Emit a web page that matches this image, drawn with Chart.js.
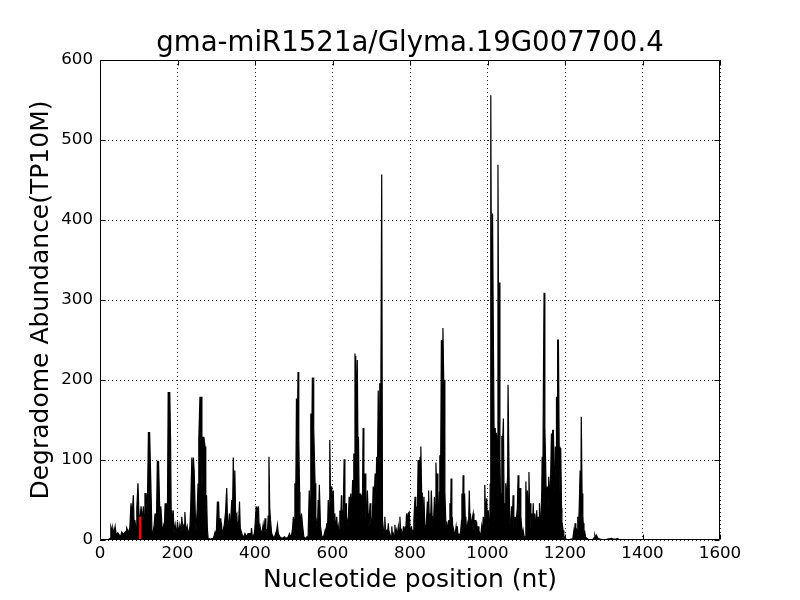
<!DOCTYPE html>
<html>
<head>
<meta charset="utf-8">
<script src="https://cdn.jsdelivr.net/npm/chart.js@4.4.1/dist/chart.umd.min.js"></script>
<style>
  html, body { margin: 0; padding: 0; background: #fff; }
  #wrap { width: 800px; height: 600px; }
</style>
</head>
<body>
<div id="wrap"><canvas id="c" width="800" height="600"></canvas></div>
<script>
const chartTitle = "gma-miR1521a/Glyma.19G007700.4";
const xLabel = "Nucleotide position (nt)";
const yLabel = "Degradome Abundance(TP10M)";
const xTicks = [0, 200, 400, 600, 800, 1000, 1200, 1400, 1600];
const yTicks = [0, 100, 200, 300, 400, 500, 600];

// degradome signal: nucleotide positions and abundance (TP10M)
const positions = [
1,20,26,28,31,33,36,39,42,46,50,53,56,60,65,67,69,73,77,80,83,86,88,90,93,95,98,100,102,104,106,109,112,114,116,119,122,125,127,128,131,134,136,138,140,142,144,146,148,150,151,154,156,157,160,162,164,166,168,170,172,174,176,178,180,182,184,185,187,189,191,194,197,200,203,206,209,211,214,217,219,222,225,228,232,234,237,239,241,243,246,248,251,253,255,
258,260,261,263,265,267,268,271,273,275,277,279,285,292,295,297,300,303,305,306,308,310,312,314,316,318,321,324,327,329,331,334,336,338,340,342,344,346,348,350,353,355,358,360,362,366,370,374,378,382,387,389,391,393,396,399,401,403,405,407,409,411,413,416,419,421,423,426,428,430,432,434,436,438,440,443,447,450,453,456,458,460,464,470,476,480,486,489,492,495,497,499,501,503,505,507,509,511,513,515,
516,518,520,523,526,530,534,537,540,542,544,546,548,550,551,552,555,557,559,561,563,564,566,569,572,575,578,581,583,585,587,589,591,593,595,598,600,602,604,606,608,611,613,615,617,619,621,623,624,626,628,630,632,635,636,638,641,643,645,647,649,652,654,655,657,658,659,660,662,664,666,667,669,671,673,675,677,679,681,684,686,688,690,692,694,697,699,701,703,705,707,710,712,714,716,718,720,722,724,725,727,729,731,733,735,737,740,742,744,746,748,751,753,755,757,759,761,763,765,767,770,772,
774,776,778,781,783,785,787,789,791,793,795,798,800,802,804,806,808,810,813,815,817,819,821,823,826,828,830,832,834,836,838,839,842,845,847,848,850,851,853,855,857,858,861,863,865,867,869,870,872,874,876,877,879,881,882,884,885,887,888,890,892,893,895,897,900,902,903,905,906,908,909,911,913,916,919,921,922,924,926,928,931,933,934,936,937,939,941,943,944,946,949,951,953,955,956,958,960,963,965,968,970,972,974,976,978,980,982,985,987,989,991,993,995,998,1000,1002,1004,1006,
1007,1008,1009,1011,1013,1015,1017,1019,1020,1022,1023,1025,1027,1029,1030,1032,1034,1035,1037,1039,1041,1043,1044,1046,1047,1049,1050,1052,1053,1055,1057,1059,1062,1064,1066,1068,1071,1073,1075,1077,1079,1081,1084,1086,1088,1090,1092,1095,1097,1099,1101,1103,1105,1107,1109,1111,1112,1114,1116,1118,1120,1122,1124,1127,1129,1131,1133,1134,1136,1138,1140,1141,1143,1144,1146,1148,1150,1152,1154,1156,1158,1160,1163,1165,1167,1168,1170,1172,1174,1175,1177,1178,1180,1181,1183,1185,1187,1189,1191,1192,1195,1197,1200,1204,1210,1215,1220,1223,1225,1226,1228,1230,1232,1233,1235,1237,1239,1241,1242,1244,1246,1247,1249,1251,1253,1256,1260,1265,1273,1275,1277,1279,1281,1284,1286,1290,1300,1310,1320,1325,1330,1336,1340,1345
];
const abundance = [
0,0,2,17,12,15,8,17,6,9,6,4,10,7,10,5,15,9,15,46,30,56,20,25,12,40,71,40,20,29,42,25,42,20,58,58,30,135,60,135,75,12,5,12,20,33,15,33,99,40,99,42,10,42,17,8,17,10,46,20,46,30,185,90,185,129,20,37,15,37,8,19,6,23,8,19,10,29,12,20,35,10,17,6,17,40,103,60,103,87,30,12,40,70,126,
179,100,179,60,129,80,129,117,40,56,15,2,1,2,6,10,5,48,20,48,15,27,10,17,6,12,20,35,65,25,15,33,12,30,50,30,103,40,87,30,33,12,25,48,15,8,3,8,4,8,8,3,15,5,4,10,25,42,20,35,42,10,17,8,12,19,8,27,10,12,6,30,104,40,25,8,4,3,8,12,19,8,4,2,4,2,4,8,3,8,15,29,20,71,40,177,120,210,125,60,
33,15,33,17,4,2,4,4,62,30,158,90,203,160,203,140,71,30,21,10,50,20,69,17,6,2,6,12,5,21,10,50,30,125,50,67,30,62,20,33,12,29,8,17,8,37,20,56,15,29,40,101,30,46,15,21,30,54,25,58,30,75,40,108,60,233,150,230,120,225,90,129,40,58,25,56,30,140,50,83,29,20,62,33,15,46,20,21,30,67,40,83,50,104,80,187,120,196,150,215,457,25,15,8,29,10,12,4,21,6,8,3,17,5,8,3,19,6,12,5,17,6,
29,8,12,5,17,8,17,10,33,20,33,35,15,8,17,5,12,25,54,20,42,30,100,50,103,117,60,58,25,54,20,12,20,48,25,62,20,33,15,62,30,17,25,54,30,97,50,83,40,29,60,106,80,250,180,120,265,200,200,60,29,10,23,8,25,15,46,30,77,20,29,8,12,5,17,6,17,5,8,3,12,25,58,30,81,40,58,20,29,10,21,15,62,20,33,10,25,33,12,25,8,23,6,17,4,8,3,17,8,29,20,69,30,52,20,37,15,21,
70,285,556,170,408,262,134,60,140,80,134,120,469,200,322,106,40,58,130,120,152,30,46,25,71,30,60,80,194,194,25,15,42,20,56,15,29,10,29,40,81,30,65,30,17,5,12,3,4,73,30,62,40,85,30,46,15,33,15,46,20,33,12,37,15,29,20,46,15,29,60,104,80,175,309,141,96,40,67,40,79,50,79,133,90,137,137,75,60,117,90,179,150,250,250,117,60,115,40,23,12,5,2,1,0,1,1,12,5,21,8,12,6,29,15,46,87,60,154,58,30,21,8,10,4,2,1,0,1,3,6,2,6,3,2,1,0,1,2,1,1,2,0,0
];

// predicted cleavage site (red mark)
const cleavagePosition = [104];
const cleavageAbundance = [29];

const FONT = "'DejaVu Sans', 'Liberation Sans', sans-serif";

const framePlugin = {
  id: 'frame',
  afterDatasetsDraw(chart) {
    const {ctx, chartArea: a, scales} = chart;
    ctx.save();
    ctx.strokeStyle = '#000';
    ctx.lineWidth = 1;
    ctx.beginPath();
    const L = Math.round(a.left) + 0.5, R = Math.round(a.right) - 0.5;
    const T = Math.round(a.top) + 0.5, B = Math.round(a.bottom) - 0.5;
    ctx.rect(L, T, R - L, B - T);
    ctx.stroke();
    // inward tick marks on all four sides
    const len = 5;
    ctx.beginPath();
    scales.x.ticks.forEach(t => {
      const px = Math.round(scales.x.getPixelForValue(t.value)) + 0.5;
      ctx.moveTo(px, B); ctx.lineTo(px, B - len);
      ctx.moveTo(px, T); ctx.lineTo(px, T + len);
    });
    scales.y.ticks.forEach(t => {
      const py = Math.round(scales.y.getPixelForValue(t.value)) + 0.5;
      ctx.moveTo(L, py); ctx.lineTo(L + len, py);
      ctx.moveTo(R, py); ctx.lineTo(R - len, py);
    });
    ctx.stroke();
    ctx.restore();
  }
};

const signal = positions.map((p, i) => ({x: p, y: abundance[i]}));
const cleavage = [];
cleavagePosition.forEach((p, i) => { cleavage.push({x: p, y: 0}); cleavage.push({x: p, y: cleavageAbundance[i]}); });

new Chart(document.getElementById('c'), {
  type: 'line',
  data: {
    datasets: [
      {
        data: cleavage,
        borderColor: '#ff0000',
        borderWidth: 2.5,
        pointRadius: 0,
        fill: false,
        tension: 0
      },
      {
        data: signal,
        borderColor: '#000000',
        backgroundColor: '#000000',
        borderWidth: 1.2,
        pointRadius: 0,
        fill: 'origin',
        tension: 0
      }
    ]
  },
  options: {
    responsive: false,
    animation: false,
    events: [],
    layout: { padding: { left: 0, right: 80, top: 0, bottom: 0 } },
    plugins: {
      legend: { display: false },
      tooltip: { enabled: false },
      title: {
        display: true,
        text: chartTitle,
        color: '#000',
        fullSize: false,
        font: { family: FONT, size: 27.6, weight: 'normal', lineHeight: 1.2 },
        padding: { top: 26.9, bottom: 0 }
      }
    },
    scales: {
      x: {
        type: 'linear',
        min: 0, max: 1600,
        afterBuildTicks(scale) { scale.ticks = xTicks.map(v => ({value: v})); },
        afterFit(scale) { scale.height = 60; },
        ticks: { color: '#000', padding: 4, maxRotation: 0, autoSkip: false,
                 callback: v => String(v),
                 font: { family: FONT, size: 16.7 } },
        grid: { color: 'rgba(0,0,0,0.85)', lineWidth: 1, drawTicks: false },
        border: { display: false, dash: [1, 3] },
        title: { display: true, text: xLabel, color: '#000',
                 font: { family: FONT, size: 25, lineHeight: 1.2 },
                 padding: { top: 0, bottom: 4.6 } }
      },
      y: {
        type: 'linear',
        min: 0, max: 600,
        afterBuildTicks(scale) { scale.ticks = yTicks.map(v => ({value: v})); },
        afterFit(scale) { scale.width = 100; },
        ticks: { color: '#000', padding: 7, autoSkip: false,
                 callback: v => String(v),
                 font: { family: FONT, size: 16.7 } },
        grid: { color: 'rgba(0,0,0,0.85)', lineWidth: 1, drawTicks: false },
        border: { display: false, dash: [1, 3] },
        title: { display: true, text: yLabel, color: '#000',
                 font: { family: FONT, size: 25, lineHeight: 1.2 },
                 padding: { top: 26.4, bottom: 0 } }
      }
    }
  },
  plugins: [framePlugin]
});
</script>
</body>
</html>
